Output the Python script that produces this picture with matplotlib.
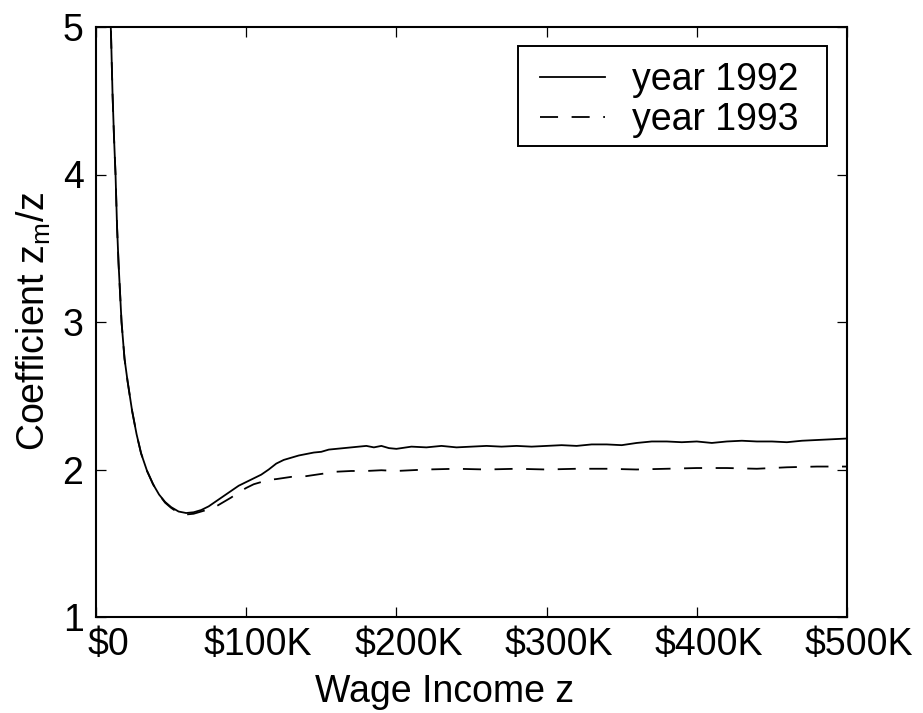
import matplotlib
matplotlib.use("Agg")
import matplotlib.pyplot as plt
from matplotlib.transforms import ScaledTranslation
from matplotlib.patches import Rectangle

plt.rcParams['font.family'] = ['Liberation Sans', 'DejaVu Sans']
plt.rcParams['mathtext.default'] = 'regular'

# Wage income (thousands of dollars)
income_1992 = [8, 9, 10, 11, 12, 13, 14, 15, 17, 19, 21, 24, 27, 30, 34, 38, 42, 46, 50, 55, 60, 65,
               70, 75, 80, 85, 90, 95, 100, 105, 110, 115, 120, 125, 130, 135, 140, 145, 150, 155,
               160, 165, 170, 175, 180, 185, 190, 195, 200, 210, 220, 230, 240, 250, 260, 270, 280,
               290, 300, 310, 320, 330, 340, 350, 360, 370, 380, 390, 400, 410, 420, 430, 440, 450,
               460, 470, 480, 490, 500]
coef_1992 = [5.6, 5.25, 4.95, 4.55, 4.25, 4.0, 3.65, 3.4, 3.0, 2.75, 2.6, 2.4, 2.24, 2.11, 1.99, 1.9,
             1.83, 1.78, 1.745, 1.715, 1.705, 1.71, 1.725, 1.75, 1.785, 1.82, 1.855, 1.89, 1.915,
             1.94, 1.965, 2.0, 2.04, 2.065, 2.08, 2.095, 2.105, 2.115, 2.12, 2.135, 2.14, 2.145,
             2.15, 2.155, 2.16, 2.15, 2.16, 2.145, 2.14, 2.155, 2.15, 2.16, 2.15, 2.155, 2.16, 2.155,
             2.16, 2.155, 2.16, 2.165, 2.16, 2.17, 2.17, 2.165, 2.18, 2.19, 2.19, 2.185, 2.19, 2.18,
             2.19, 2.195, 2.19, 2.19, 2.185, 2.195, 2.2, 2.205, 2.21]

income_1993 = [8, 9, 10, 11, 12, 13, 14, 15, 17, 19, 21, 24, 27, 30, 34, 38, 42, 46, 50, 55, 60, 65,
               70, 75, 80, 85, 90, 95, 100, 105, 110, 115, 120, 130, 140, 150, 160, 170, 180, 190,
               200, 220, 240, 260, 280, 300, 320, 340, 360, 380, 400, 420, 440, 460, 480, 500]
coef_1993 = [5.6, 5.25, 4.95, 4.55, 4.25, 4.0, 3.65, 3.4, 3.0, 2.75, 2.6, 2.4, 2.24, 2.11, 1.99, 1.9,
             1.83, 1.775, 1.74, 1.705, 1.695, 1.70, 1.715, 1.73, 1.75, 1.78, 1.81, 1.845, 1.875,
             1.9, 1.915, 1.93, 1.935, 1.95, 1.955, 1.97, 1.985, 1.99, 1.99, 1.995, 1.99, 2.0,
             2.005, 2.0, 2.005, 2.0, 2.005, 2.005, 2.0, 2.005, 2.01, 2.01, 2.005, 2.015, 2.02, 2.02]

xtick_values = [0, 100, 200, 300, 400, 500]
xtick_labels = ['$0', '$100K', '$200K', '$300K', '$400K', '$500K']
ytick_values = [1, 2, 3, 4, 5]
series_labels = ['year 1992', 'year 1993']

FS = 27
W, H = 923, 713
fig = plt.figure(figsize=(W / 100, H / 100), dpi=100)
ax_l, ax_r, ax_t, ax_b = 96, 847, 27, 617
ax = fig.add_axes([ax_l / W, 1 - ax_b / H, (ax_r - ax_l) / W, (ax_b - ax_t) / H])

ax.plot(income_1992, coef_1992, color='black', lw=1.3, label=series_labels[0])
ax.plot(income_1993, coef_1993, color='black', lw=1.3, linestyle=(0, (10, 7.5)),
        label=series_labels[1])

ax.set_xlim(0, 500)
ax.set_ylim(1, 5)
ax.set_xticks(xtick_values)
ax.set_xticklabels([l.replace('$', r'\$') for l in xtick_labels])
ax.set_yticks(ytick_values)

ax.tick_params(direction='in', length=7, width=0.9, top=True, right=True, labelsize=FS)
ax.tick_params(axis='x', pad=7)
ax.tick_params(axis='y', pad=9)
for s in ax.spines.values():
    s.set_linewidth(1.5)

shift = ScaledTranslation(12 / 100, 0, fig.dpi_scale_trans)
for lab in ax.get_xticklabels():
    lab.set_transform(lab.get_transform() + shift)

ax.set_xlabel('Wage Income z', fontsize=FS)
ax.xaxis.set_label_coords((445 - ax_l) / (ax_r - ax_l), (ax_b - 674) / (ax_b - ax_t))
ax.set_ylabel(r'Coefficient z$_m$/z', fontsize=FS)
ax.yaxis.set_label_coords((53 - ax_l) / (ax_r - ax_l), 0.5)

# legend: frame drawn as a box, entries placed inside
bx0, bx1, by0, by1 = 518, 827, 46, 146
frame = Rectangle(((bx0 - ax_l) / (ax_r - ax_l), (ax_b - by1) / (ax_b - ax_t)),
                  (bx1 - bx0) / (ax_r - ax_l), (by1 - by0) / (ax_b - ax_t),
                  transform=ax.transAxes, facecolor='white', edgecolor='black',
                  lw=1.4, zorder=4)
ax.add_patch(frame)
leg = ax.legend(loc='upper left',
                bbox_to_anchor=((540 - ax_l) / (ax_r - ax_l), (ax_b - 62) / (ax_b - ax_t)),
                borderaxespad=0, borderpad=0, frameon=False, fontsize=FS,
                handlelength=1.73, handletextpad=0.72, labelspacing=0.11)
leg.set_zorder(5)

fig.savefig('out.png', dpi=100)
